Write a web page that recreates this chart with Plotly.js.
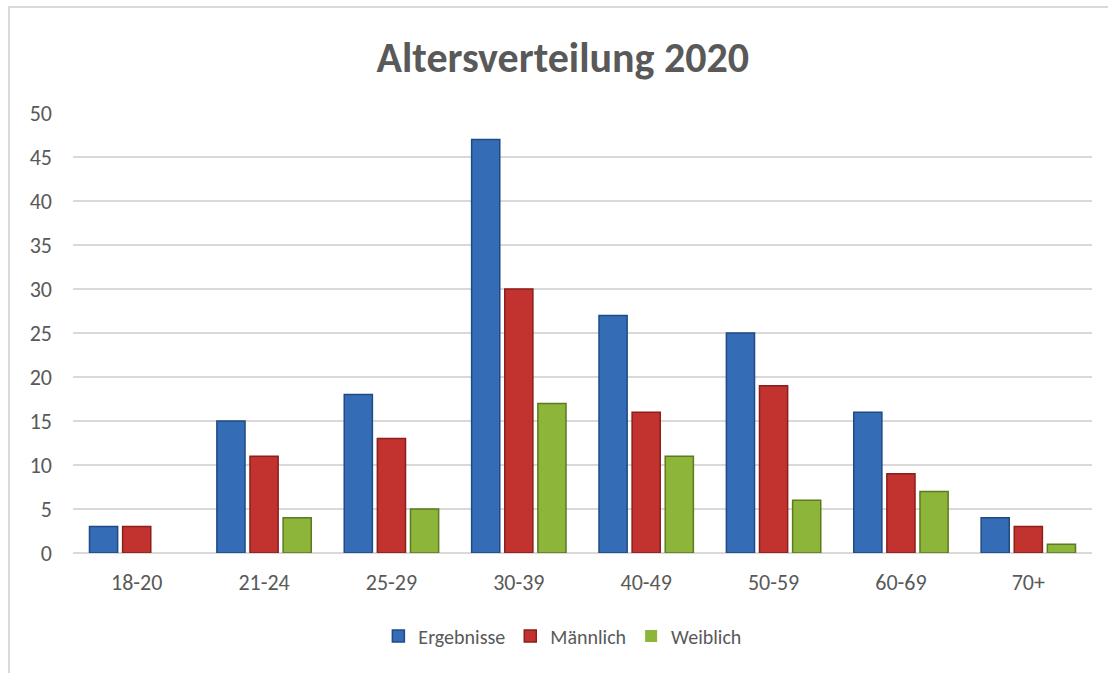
<!DOCTYPE html>
<html>
<head>
<meta charset="utf-8">
<script src="https://cdn.plot.ly/plotly-3.0.1.min.js"></script>
<style>
html,body{margin:0;padding:0;background:#fff;}
#wrap{position:relative;width:1108px;height:673px;overflow:hidden;}
#frame{position:absolute;left:8px;top:6px;width:1200px;height:700px;border-top:2px solid #d9d9d9;border-left:2px solid #d9d9d9;pointer-events:none;z-index:5;}
#chart{position:absolute;left:0;top:0;width:1108px;height:673px;}
</style>
</head>
<body>
<div id="wrap"><div id="chart"></div><div id="frame"></div></div>
<script>
const categories = ["18-20","21-24","25-29","30-39","40-49","50-59","60-69","70+"];
const ergebnisse = [3,15,18,47,27,25,16,4];
const maennlich  = [3,11,13,30,16,19,9,3];
const weiblich   = [0,4,5,17,11,6,7,1];
const yTicks = [0,5,10,15,20,25,30,35,40,45,50];

const fontFam = "Carlito, Calibri, 'Open Sans', sans-serif";
function bar(name, y, fill, line){
  return {type:'bar', name:name, x:categories, y:y,
    marker:{color:fill, line:{color:line, width:y.map(v => v === 0 ? 0 : 1.5)}}, hoverinfo:'x+y'};
}
const data = [
  bar('Ergebnisse', ergebnisse, '#346CB5', '#1F4A85'),
  bar('Männlich', maennlich, '#C2332F', '#8A1F1C'),
  bar('Weiblich', weiblich, '#8DB53A', '#5C7A20')
];
const layout = {
  width:1108, height:673,
  paper_bgcolor:'#fff', plot_bgcolor:'#fff',
  margin:{l:73, r:16, t:113, b:120},
  barmode:'group', bargap:0.22, bargroupgap:0.15,
  title:{text:'<b>Altersverteilung 2020</b>', font:{family:fontFam, size:42, color:'#595959'},
    x:0.508, xanchor:'center', y:1-57/673, yref:'container', yanchor:'middle'},
  xaxis:{type:'category', showgrid:false, showline:false, zeroline:false, ticks:'',
    tickfont:{family:fontFam, size:22, color:'#595959'}, ticklabelstandoff:14},
  yaxis:{range:[0,50], tickvals:yTicks, showgrid:true, gridcolor:'#d9d9d9', gridwidth:2,
    zeroline:true, zerolinecolor:'#d9d9d9', zerolinewidth:2, showline:false, ticks:'',
    tickfont:{family:fontFam, size:22, color:'#595959'}, ticklabelstandoff:20},
  showlegend:true,
  legend:{orientation:'h', x:0.508, xanchor:'center', xref:'container', y:1-636/673, yref:'container', yanchor:'middle',
    font:{family:fontFam, size:20, color:'#595959'}, itemwidth:30, traceorder:'normal'},
  font:{family:fontFam, color:'#595959'}
};
Plotly.newPlot('chart', data, layout, {displayModeBar:false, staticPlot:true});
</script>
</body>
</html>
